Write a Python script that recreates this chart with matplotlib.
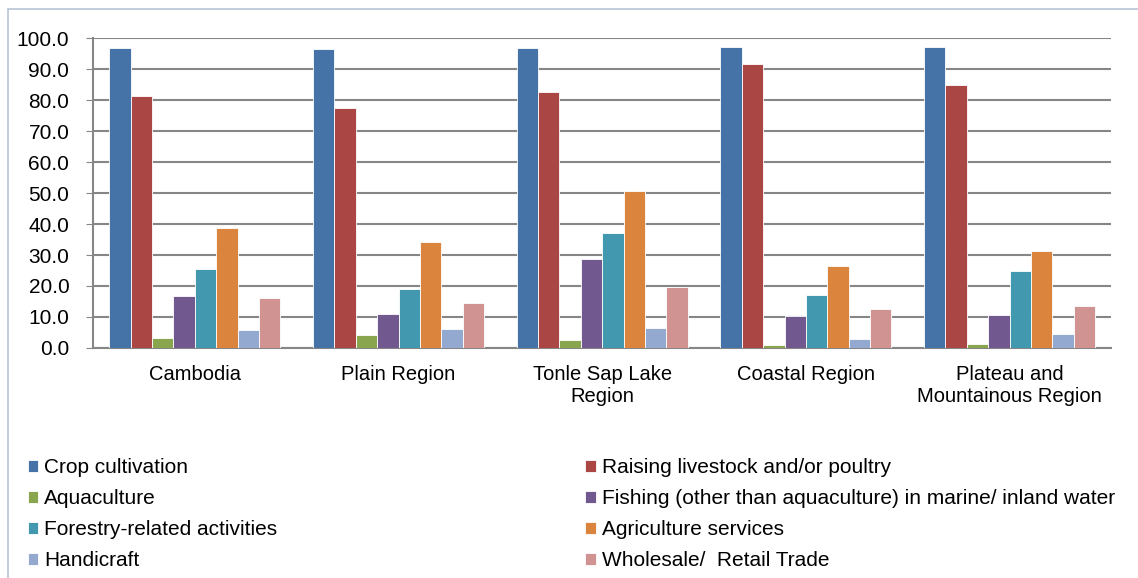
import numpy as np
import matplotlib.pyplot as plt
from matplotlib.patches import Rectangle

plt.rcParams['font.family'] = ['Liberation Sans', 'DejaVu Sans']

regions = ["Cambodia", "Plain Region", "Tonle Sap Lake\nRegion", "Coastal Region",
           "Plateau and\nMountainous Region"]
series = ["Crop cultivation", "Raising livestock and/or poultry", "Aquaculture",
          "Fishing (other than aquaculture) in marine/ inland water",
          "Forestry-related activities", "Agriculture services", "Handicraft",
          "Wholesale/  Retail Trade"]
crop = [96.8, 96.6, 96.7, 97.3, 97.3]
livestock = [81.3, 77.6, 82.6, 91.8, 84.8]
aquaculture = [3.3, 4.3, 2.6, 1.1, 1.4]
fishing = [16.7, 10.9, 28.7, 10.4, 10.5]
forestry = [25.6, 19.1, 37.1, 17.2, 24.8]
agri_services = [38.7, 34.1, 50.8, 26.5, 31.3]
handicraft = [5.9, 6.0, 6.5, 3.0, 4.4]
wholesale = [16.0, 14.6, 19.8, 12.7, 13.5]
yticks = [0, 10, 20, 30, 40, 50, 60, 70, 80, 90, 100]

values = [crop, livestock, aquaculture, fishing, forestry, agri_services, handicraft, wholesale]
colors = ["#4572A7", "#AA4643", "#89A54E", "#71588F", "#4198AF", "#DB843D", "#93A9CF", "#D19392"]

fig = plt.figure(figsize=(11.38, 5.78), dpi=100)
ax = fig.add_axes([0.0817, 0.398, 0.895, 0.536])

x = np.arange(len(regions))
w = 0.105
handles = []
for i, (vals, col) in enumerate(zip(values, colors)):
    b = ax.bar(x + (i - 3.5) * w, vals, w, color=col, edgecolor="white", linewidth=0.6,
               label=series[i], zorder=3)
    handles.append(b)

ax.set_xlim(-0.5, len(regions) - 0.5)
ax.set_ylim(0, 100)
ax.set_yticks(yticks)
ax.set_yticklabels(["%.1f" % v for v in yticks], fontsize=15)
ax.set_xticks(x)
ax.set_xticklabels(regions, fontsize=14.5, linespacing=1.25)
ax.tick_params(axis="x", length=0, pad=12)
ax.tick_params(axis="y", length=5, color="#868686", pad=12)
ax.yaxis.grid(True, color="#868686", linewidth=1.5, zorder=0)
for s in ["top", "right"]:
    ax.spines[s].set_visible(False)
for s in ["left", "bottom"]:
    ax.spines[s].set_color("#868686")
    ax.spines[s].set_linewidth(1.5)

# legend in two columns, filled row by row
left_h = [handles[0], handles[2], handles[4], handles[6]]
right_h = [handles[1], handles[3], handles[5], handles[7]]
for hs, xpos in [(left_h, 0.017), (right_h, 0.507)]:
    fig.legend(hs, [h.get_label() for h in hs], loc="upper left",
               bbox_to_anchor=(xpos, 0.222), frameon=False, fontsize=15,
               handlelength=0.5, handleheight=0.5, handletextpad=0.3,
               labelspacing=0.58, borderaxespad=0)

fig.patches.append(Rectangle((0.007, -0.01), 1.2, 0.995, transform=fig.transFigure,
                             fill=False, edgecolor="#B9C3D6", linewidth=1.2))

fig.savefig("out.png", dpi=100)
